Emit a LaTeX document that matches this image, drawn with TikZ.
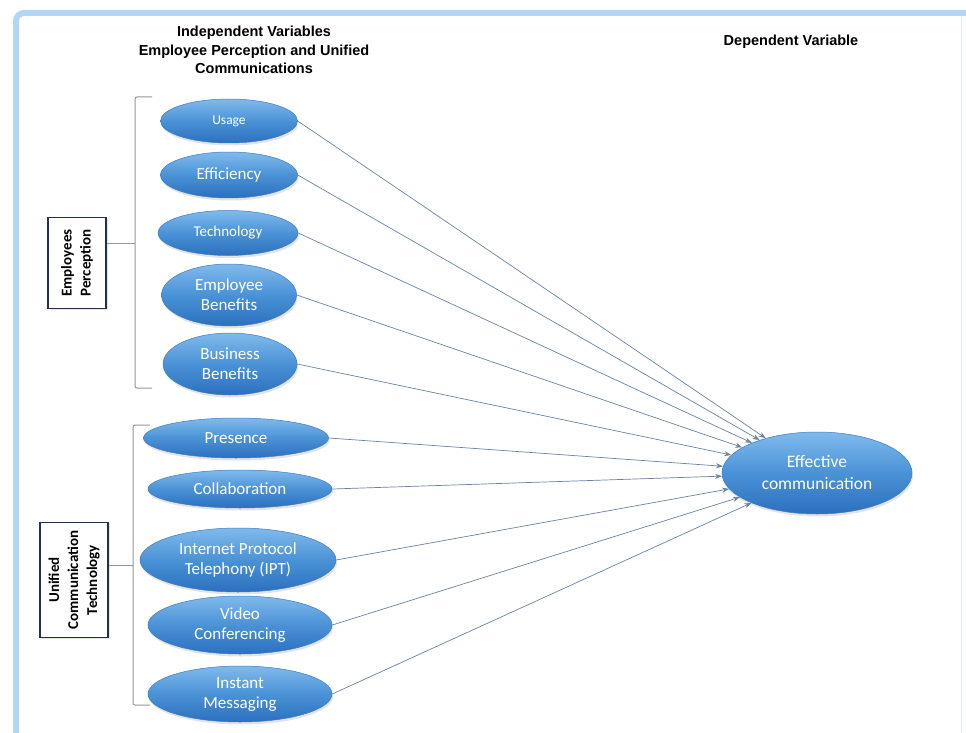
\documentclass[tikz,border=0pt]{standalone}
\usepackage{fontspec}
\setmainfont{Carlito}
\newfontfamily\headfont{Liberation Sans}
\usetikzlibrary{shapes.geometric,arrows.meta,shadows}

\definecolor{ovaltop}{RGB}{128,186,236}
\definecolor{ovalmid}{RGB}{74,146,214}
\definecolor{ovalbot}{RGB}{44,112,190}
\definecolor{ovalrim}{RGB}{60,125,195}
\definecolor{linkcol}{RGB}{105,132,162}
\definecolor{bracecol}{RGB}{150,150,150}
\definecolor{framecol}{RGB}{178,214,246}
\definecolor{boxrim}{RGB}{32,48,78}

\tikzset{
  oval/.style={ellipse, inner sep=0pt, draw=ovalrim, line width=0.5pt,
    top color=ovaltop, bottom color=ovalbot, middle color=ovalmid,
    text=white, align=center, font=\fontsize{17}{20}\selectfont,
    drop shadow={opacity=0.22, shadow xshift=1pt, shadow yshift=-2.5pt}},
  link/.style={draw=linkcol, line width=0.7pt, -{Stealth[length=7pt,width=5pt]}},
  brace/.style={draw=bracecol, line width=1pt, rounded corners=2pt},
  groupbox/.style={draw=boxrim, line width=1.6pt, fill=white, inner sep=0pt,
    drop shadow={opacity=0.2, shadow xshift=1.5pt, shadow yshift=-1.5pt}},
  grouplabel/.style={rotate=90, align=center, font=\bfseries\fontsize{15}{19}\selectfont},
  heading/.style={align=center, font=\headfont\bfseries\fontsize{14.5}{18.5}\selectfont}
}

\begin{document}
\begin{tikzpicture}[x=1pt,y=-1pt]
\useasboundingbox (0,0) rectangle (966,733);
\fill[white] (0,0) rectangle (966,733);

% outer frame
\draw[framecol, line width=6pt, rounded corners=8pt] (16,740) -- (16,13) -- (966,13);
\draw[framecol!40, line width=1pt] (961,16) -- (961,733);

% headings
\node[heading] (indep) at (254,50) {Independent Variables\\Employee Perception and Unified\\Communications};
\node[heading] (dep) at (791,42) {Dependent Variable};

% predictor ovals
\node[oval, minimum width=137pt, minimum height=44pt, font=\fontsize{13.5}{16}\selectfont] (usage) at (229,121) {Usage};
\node[oval, minimum width=137pt, minimum height=46pt] (effic) at (229,175) {Efficiency};
\node[oval, minimum width=140pt, minimum height=45pt, font=\fontsize{15}{18}\selectfont] (techn) at (228,233) {Technology};
\node[oval, minimum width=135pt, minimum height=62pt] (empben) at (229,295) {Employee\\Benefits};
\node[oval, minimum width=134pt, minimum height=62pt] (busben) at (230,364) {Business\\Benefits};

\node[oval, minimum width=185pt, minimum height=40pt] (presence) at (236,438) {Presence};
\node[oval, minimum width=184pt, minimum height=38pt] (collab) at (240,489) {Collaboration};
\node[oval, minimum width=196pt, minimum height=64pt] (ipt) at (238,560) {Internet Protocol\\Telephony (IPT)};
\node[oval, minimum width=184pt, minimum height=58pt] (video) at (240,625) {Video\\Conferencing};
\node[oval, minimum width=184pt, minimum height=56pt] (instant) at (240,694) {Instant\\Messaging};

% outcome oval
\node[oval, minimum width=190pt, minimum height=82pt, font=\fontsize{17.5}{22}\selectfont] (effect) at (817,473) {Effective\\communication};

% group boxes
\node[groupbox, minimum width=58pt, minimum height=91pt] (perc) at (77,263) {};
\node[grouplabel] (perclab) at (perc.center) {Employees\\Perception};
\node[groupbox, minimum width=68pt, minimum height=115pt] (uct) at (74,580) {};
\node[grouplabel] (uctlab) at (uct.center) {Unified\\Communication\\Technology};

% brackets joining each box to its ovals
\coordinate (b1top) at (152,97);
\coordinate (b1bot) at (152,388);
\coordinate (b1mid) at (135,243);
\draw[brace] (b1top) -- (135,97) -- (135,388) -- (b1bot);
\draw[brace] (perc.east |- b1mid) -- (b1mid);

\coordinate (b2top) at (150,425);
\coordinate (b2bot) at (150,705);
\coordinate (b2mid) at (133,565);
\draw[brace] (b2top) -- (133,425) -- (133,705) -- (b2bot);
\draw[brace] (uct.east |- b2mid) -- (b2mid);

% paths to the outcome
\foreach \src in {usage,effic,techn,empben,busben,presence,collab,ipt,video,instant}
  \draw[link] (\src.east) -- (effect);
\end{tikzpicture}
\end{document}
